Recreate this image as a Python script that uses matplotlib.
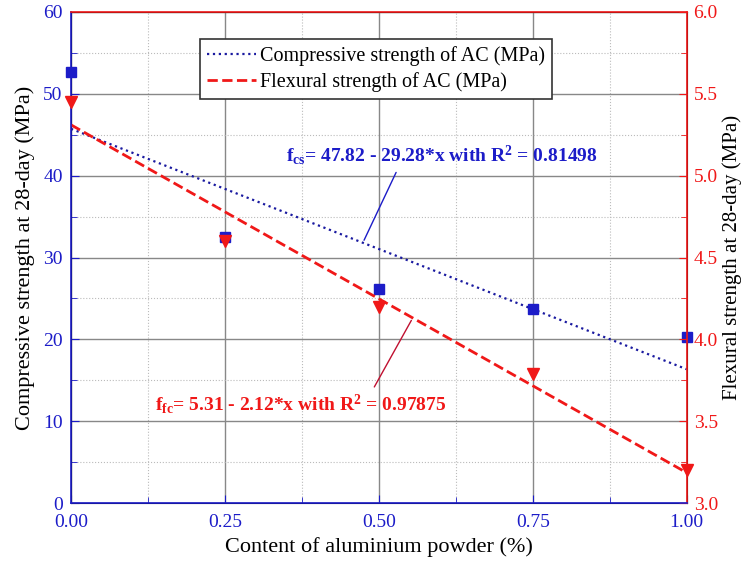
import numpy as np
import matplotlib
matplotlib.use('Agg')
import matplotlib.pyplot as plt
from matplotlib.ticker import MultipleLocator

plt.rcParams['font.family'] = ['Liberation Serif', 'DejaVu Serif']
plt.rcParams['mathtext.fontset'] = 'custom'
plt.rcParams['mathtext.rm'] = 'Liberation Serif:bold'
plt.rcParams['mathtext.it'] = 'Liberation Serif:bold:italic'
plt.rcParams['mathtext.bf'] = 'Liberation Serif:bold'

# data
content = [0.0, 0.25, 0.50, 0.75, 1.00]
compressive = [52.6, 32.5, 26.1, 23.7, 20.3]
flexural = [5.45, 4.60, 4.20, 3.79, 3.20]

cs_label = 'Compressive strength of AC (MPa)'
fs_label = 'Flexural strength of AC (MPa)'
cs_eq = r'f$_{\mathrm{cs}}$= 47.82 - 29.28*x with R$^{\mathrm{2}}$ = 0.81498'
fs_eq = r'f$_{\mathrm{fc}}$= 5.31 - 2.12*x with R$^{\mathrm{2}}$ = 0.97875'

blue = '#1c1cc8'
navy = '#1a1aa0'
red = '#f01818'

fig = plt.figure(figsize=(7.48, 5.66), dpi=100)
ax = fig.add_axes([0.095, 0.111, 0.823, 0.868])
ax2 = ax.twinx()

# linear fits
xs = np.array([0.0, 1.0])
p1 = np.polyfit(content, compressive, 1)
p2 = np.polyfit(content, flexural, 1)

ax.plot(content, compressive, 's', color=blue, ms=7, clip_on=False, zorder=5)
l1, = ax.plot(xs, np.polyval(p1, xs), ':', color=navy, lw=1.6, label=cs_label)
ax2.plot(content, flexural, 'v', color=red, ms=9, clip_on=False, zorder=5)
l2, = ax2.plot(xs, np.polyval(p2, xs), '--', color=red, lw=2.0, label=fs_label)

ax.set_xlim(0, 1)
ax.set_ylim(0, 60)
ax2.set_ylim(3.0, 6.0)

ax.xaxis.set_major_locator(MultipleLocator(0.25))
ax.xaxis.set_minor_locator(MultipleLocator(0.125))
ax.yaxis.set_major_locator(MultipleLocator(10))
ax.yaxis.set_minor_locator(MultipleLocator(5))
ax2.yaxis.set_major_locator(MultipleLocator(0.5))
ax2.yaxis.set_minor_locator(MultipleLocator(0.25))
ax.xaxis.set_major_formatter(matplotlib.ticker.FormatStrFormatter('%.2f'))
ax2.yaxis.set_major_formatter(matplotlib.ticker.FormatStrFormatter('%.1f'))

ax.grid(which='major', color='#888888', lw=1.0)
ax.grid(which='minor', color='#bbbbbb', lw=0.8, ls=':')
ax.set_axisbelow(True)

ax.tick_params(axis='x', which='both', direction='in', colors=blue, labelsize=14, top=False, pad=8)
ax.tick_params(axis='y', which='both', direction='in', colors=blue, labelsize=14, pad=6)
ax.tick_params(which='major', length=6)
ax.tick_params(which='minor', length=4)
ax2.tick_params(axis='y', which='both', direction='in', colors=red, labelsize=14, pad=5)
ax2.tick_params(which='major', length=6)
ax2.tick_params(which='minor', length=4)

for s in ['left', 'bottom']:
    ax2.spines[s].set_color(blue)
for s in ['right', 'top']:
    ax2.spines[s].set_color(red)
for s in ax2.spines.values():
    s.set_linewidth(1.2)

ax.set_xlabel('Content of aluminium powder (%)', fontsize=16, color='black')
ax.set_ylabel('Compressive strength at 28-day (MPa)', fontsize=16, color='black', labelpad=6)
ax2.set_ylabel('Flexural strength at 28-day (MPa)', fontsize=15, color='black', labelpad=3)

leg = ax2.legend(handles=[l1, l2], loc='upper left', bbox_to_anchor=(0.21, 0.945),
                 borderaxespad=0, fancybox=False, framealpha=1, edgecolor='#333333',
                 fontsize=14.5, handlelength=2.4, handletextpad=0.2, borderpad=0.35,
                 labelspacing=0.3)
leg.get_frame().set_linewidth(1.2)

# equation callouts
ax.annotate(cs_eq, xy=(0.474, np.polyval(p1, 0.474)), xytext=(0.602, 42.5),
            fontsize=14, fontweight='bold', color=blue, ha='center', va='center',
            arrowprops=dict(arrowstyle='-', color=blue, lw=1.0, relpos=(0.38, 0.5)))
ax2.annotate(fs_eq, xy=(0.555, np.polyval(p2, 0.555)), xytext=(0.373, 3.605),
             fontsize=14, fontweight='bold', color=red, ha='center', va='center',
             arrowprops=dict(arrowstyle='-', color='#c01030', lw=1.0, relpos=(0.72, 0.5)))

fig.savefig('out.png', dpi=100)
